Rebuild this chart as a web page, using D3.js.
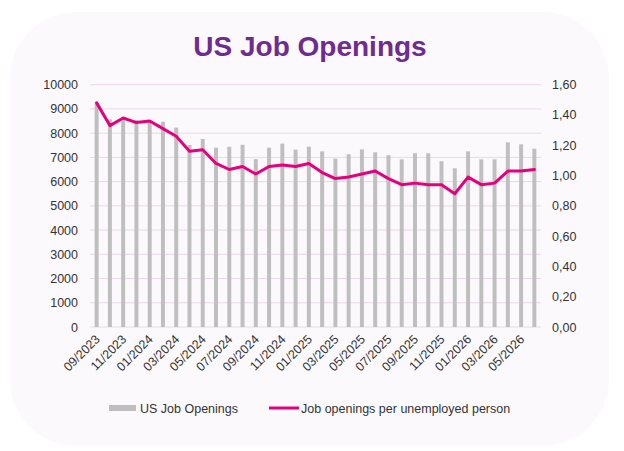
<!DOCTYPE html>
<html>
<head>
<meta charset="utf-8">
<script src="https://cdn.jsdelivr.net/npm/d3@7"></script>
<style>
  html, body { margin: 0; padding: 0; background: #fff; }
  text { font-family: "Liberation Sans", Arial, sans-serif; }
</style>
</head>
<body>
<svg id="chart" width="624" height="451"></svg>
<script>
// months shown on the x axis (one bar per month)
const months = [
  '09/2023', '10/2023', '11/2023', '12/2023', '01/2024', '02/2024', '03/2024', '04/2024',
  '05/2024', '06/2024', '07/2024', '08/2024', '09/2024', '10/2024', '11/2024', '12/2024',
  '01/2025', '02/2025', '03/2025', '04/2025', '05/2025', '06/2025', '07/2025', '08/2025',
  '09/2025', '10/2025', '11/2025', '12/2025', '01/2026', '02/2026', '03/2026', '04/2026',
  '05/2026', '06/2026'
]

// US job openings (thousands)
const openings = [
  9250, 8570, 8600, 8540, 8470, 8470, 8230, 7510,
  7760, 7400, 7440, 7520, 6930, 7400, 7570, 7320,
  7440, 7250, 6950, 7130, 7330, 7210, 7090, 6920,
  7170, 7170, 6840, 6550, 7250, 6920, 6920, 7620,
  7540, 7360
]

// job openings per unemployed person
const ratio = [
  1.48, 1.33, 1.38, 1.35, 1.36, 1.31, 1.26, 1.16,
  1.17, 1.08, 1.04, 1.06, 1.01, 1.06, 1.07, 1.06,
  1.08, 1.02, 0.98, 0.99, 1.01, 1.03, 0.98, 0.94,
  0.95, 0.94, 0.94, 0.88, 0.99, 0.94, 0.95, 1.03,
  1.03, 1.04
]

const leftTicks = [0, 1000, 2000, 3000, 4000, 5000, 6000, 7000, 8000, 9000, 10000]
const rightTicks = [0, 0.2, 0.4, 0.6, 0.8, 1.0, 1.2, 1.4, 1.6]
const legendLabels = ['US Job Openings', 'Job openings per unemployed person']

const svg = d3.select('#chart')

// card background
svg.append('rect')
  .attr('x', 10)
  .attr('y', 12)
  .attr('width', 599)
  .attr('height', 434)
  .attr('rx', 66)
  .attr('fill', '#fcf9fd')

// title
svg.append('text')
  .attr('x', 310)
  .attr('y', 56)
  .attr('text-anchor', 'middle')
  .attr('fill', '#6f2c8f')
  .style('font-size', '28px')
  .style('font-weight', 'bold')
  .text('US Job Openings')

const plot = { left: 90, right: 541, top: 84.7, bottom: 327 }

const x = d3.scaleBand()
  .domain(months)
  .range([plot.left, plot.right])
  .paddingInner(0.7)
  .paddingOuter(0.35)

const yLeft = d3.scaleLinear()
  .domain([0, 10000])
  .range([plot.bottom, plot.top])

const yRight = d3.scaleLinear()
  .domain([0, 1.6])
  .range([plot.bottom, plot.top])

const locale = d3.formatLocale({ decimal: ',', thousands: '', grouping: [3], currency: ['', ''] })
const fmtRight = locale.format('.2f')

// gridlines
svg.append('g')
  .selectAll('line')
  .data(leftTicks)
  .join('line')
  .attr('x1', plot.left)
  .attr('x2', plot.right)
  .attr('y1', (d) => yLeft(d))
  .attr('y2', (d) => yLeft(d))
  .attr('stroke', '#ead6ea')
  .attr('stroke-width', 1)

// bars
svg.append('g')
  .selectAll('rect')
  .data(openings)
  .join('rect')
  .attr('x', (d, i) => x(months[i]))
  .attr('y', (d) => yLeft(d))
  .attr('width', x.bandwidth())
  .attr('height', (d) => yLeft(0) - yLeft(d))
  .attr('fill', '#bfbfbf')

// ratio line
let line = d3.line()
  .x((d, i) => x(months[i]) + x.bandwidth() / 2)
  .y((d) => yRight(d))

svg.append('path')
  .datum(ratio)
  .attr('d', line)
  .attr('fill', 'none')
  .attr('stroke', '#e6007e')
  .attr('stroke-width', 3)
  .attr('stroke-linejoin', 'round')
  .attr('stroke-linecap', 'round')

// left axis
const axisL = svg.append('g')
  .attr('transform', `translate(${plot.left},0)`)
  .call(d3.axisLeft(yLeft).tickValues(leftTicks).tickSize(0).tickPadding(12).tickFormat(d3.format('d')))
axisL.select('.domain').remove()

// right axis
const axisR = svg.append('g')
  .attr('transform', `translate(${plot.right},0)`)
  .call(d3.axisRight(yRight).tickValues(rightTicks).tickSize(0).tickPadding(11).tickFormat(fmtRight))
axisR.select('.domain').remove()

svg.selectAll('.tick text')
  .attr('fill', '#333')
  .style('font-size', '12.5px')
  .style('font-family', '"Liberation Sans", Arial, sans-serif')

// x labels, every other month
svg.append('g')
  .selectAll('text')
  .data(months.filter((m, i) => i % 2 === 0))
  .join('text')
  .attr('transform', (d) => `translate(${x(d) + x.bandwidth() / 2 + 4},340) rotate(-45)`)
  .attr('text-anchor', 'end')
  .attr('fill', '#333')
  .style('font-size', '12.5px')
  .text((d) => d)

// legend
const legend = svg.append('g')

legend.append('rect')
  .attr('x', 109)
  .attr('y', 405)
  .attr('width', 27)
  .attr('height', 6)
  .attr('fill', '#bfbfbf')

legend.append('text')
  .attr('x', 140)
  .attr('y', 412.5)
  .attr('fill', '#333')
  .style('font-size', '12.5px')
  .text(legendLabels[0])

legend.append('line')
  .attr('x1', 269)
  .attr('x2', 299)
  .attr('y1', 408)
  .attr('y2', 408)
  .attr('stroke', '#e6007e')
  .attr('stroke-width', 3)

legend.append('text')
  .attr('x', 301)
  .attr('y', 412.5)
  .attr('fill', '#333')
  .style('font-size', '12.5px')
  .text(legendLabels[1])
</script>
</body>
</html>
